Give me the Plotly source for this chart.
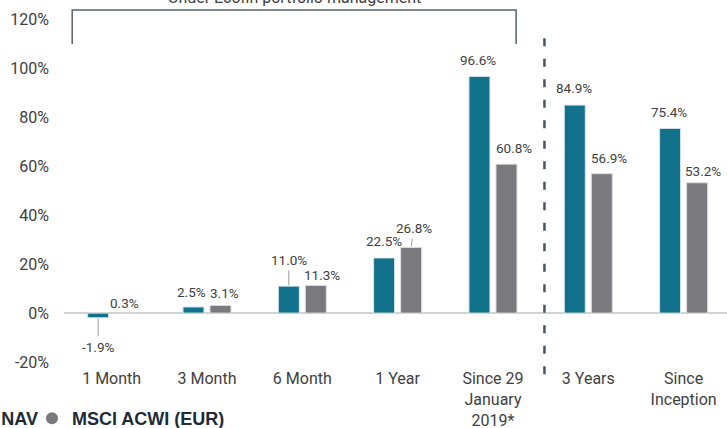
import plotly.graph_objects as go

categories = ["1 Month", "3 Month", "6 Month", "1 Year", "Since 29<br>January<br>2019*", "3 Years", "Since<br>Inception"]
nav_values = [-1.9, 2.5, 11.0, 22.5, 96.6, 84.9, 75.4]
msci_values = [0.3, 3.1, 11.3, 26.8, 60.8, 56.9, 53.2]
y_tickvals = [-20, 0, 20, 40, 60, 80, 100, 120]
y_ticktext = ["-20%", "0%", "20%", "40%", "60%", "80%", "100%", "120%"]
series_names = ["NAV", "MSCI ACWI (EUR)"]
bracket_label = "Under Ecofin portfolio management"

NAV_COLOR = "#12718a"
MSCI_COLOR = "#7a7a7e"
TEXT_COLOR = "#404040"
FONT = "Roboto"

BAR_W = 0.22
NAV_OFF = -0.2518
MSCI_OFF = 0.0316
NAV_C = NAV_OFF + BAR_W / 2
MSCI_C = MSCI_OFF + BAR_W / 2

xs = list(range(len(categories)))

fig = go.Figure()
fig.add_trace(go.Bar(x=xs, y=nav_values, width=BAR_W, offset=NAV_OFF,
                     marker=dict(color=NAV_COLOR, line=dict(color="#d5e3e8", width=1)),
                     showlegend=False, hoverinfo="skip"))
fig.add_trace(go.Bar(x=xs, y=msci_values, width=BAR_W, offset=MSCI_OFF,
                     marker=dict(color=MSCI_COLOR, line=dict(color="#dcdcdc", width=1)),
                     showlegend=False, hoverinfo="skip"))
# legend entries (circle markers)
fig.add_trace(go.Scatter(x=[None], y=[None], mode="markers", name=series_names[0], legend="legend",
                         marker=dict(symbol="circle", size=14, color=NAV_COLOR)))
fig.add_trace(go.Scatter(x=[None], y=[None], mode="markers", name=series_names[1], legend="legend2",
                         marker=dict(symbol="circle", size=14, color=MSCI_COLOR)))

# label offsets (pixels): (xshift, yshift) or arrow (ax, ay)
nav_label_style = [("arrow", 0, 29), ("shift", -2, 15), ("arrow", 0, -26), ("shift", -0.5, 17),
                   ("shift", -1.5, 16.5), ("shift", -1, 17), ("shift", -1, 16)]
msci_label_style = [("shift", -1, 9.5), ("shift", 4, 12.5), ("shift", 6.5, 10.5), ("arrow", 2.5, -19),
                    ("shift", 7.5, 16), ("shift", 7, 15.6), ("shift", 6, 11.5)]

def add_labels(values, center, styles):
    for i, (v, st) in enumerate(zip(values, styles)):
        txt = f"{v:.1f}%"
        if st[0] == "arrow":
            fig.add_annotation(x=i + center, y=v, xref="x", yref="y", text=txt,
                               showarrow=True, arrowhead=0, arrowwidth=1, arrowcolor="#9a9a9a",
                               ax=st[1], ay=st[2], standoff=1, startstandoff=1,
                               font=dict(family=FONT, size=13.5, color=TEXT_COLOR))
        else:
            fig.add_annotation(x=i + center, y=v, xref="x", yref="y", text=txt,
                               showarrow=False, xshift=st[1], yshift=st[2], yanchor="middle",
                               font=dict(family=FONT, size=13.5, color=TEXT_COLOR))

add_labels(nav_values, NAV_C, nav_label_style)
add_labels(msci_values, MSCI_C, msci_label_style)

# bracket
BR_COLOR = "#55636c"
fig.add_shape(type="path", xref="x", yref="y",
              path="M -0.414 109.8 L -0.414 123.7 L 4.243 123.7 L 4.243 109.8",
              line=dict(color=BR_COLOR, width=1.5))
fig.add_annotation(x=(-0.414 + 4.243) / 2, y=123.7, xref="x", yref="y", text=bracket_label,
                   showarrow=False, yanchor="bottom", yshift=1,
                   font=dict(family=FONT, size=16, color=TEXT_COLOR))
# dashed divider
fig.add_shape(type="line", xref="x", yref="paper", x0=4.54, x1=4.54, y0=0.896, y1=-0.0436,
              line=dict(color="#4a5560", width=2.5, dash="8px,12.5px"))

legend_font = dict(family="Liberation Sans", size=18, color="#1c2b36", weight="bold")
fig.update_layout(
    width=727, height=428,
    margin=dict(l=64, r=0, t=0, b=61, autoexpand=False),
    plot_bgcolor="white", paper_bgcolor="white",
    barmode="overlay",
    font=dict(family=FONT, color=TEXT_COLOR, size=16),
    showlegend=True,
    legend=dict(orientation="h", x=-0.155, xanchor="left", y=-0.09, yanchor="top",
                font=legend_font, itemsizing="constant", bgcolor="rgba(0,0,0,0)"),
    legend2=dict(orientation="h", x=-0.0483, xanchor="left", y=-0.09, yanchor="top",
                 font=legend_font, itemsizing="constant", bgcolor="rgba(0,0,0,0)"),
    xaxis=dict(range=[-0.5, 6.455], tickvals=xs, ticktext=categories, showgrid=False,
               zeroline=False, showline=False, ticks="", tickfont=dict(size=16, color=TEXT_COLOR),
               automargin=False),
    yaxis=dict(range=[-22, 127.8], tickvals=y_tickvals, ticktext=y_ticktext, showgrid=False,
               zeroline=True, zerolinecolor="#d3d3d3", zerolinewidth=1.5, showline=False,
               ticks="", ticklabelstandoff=14, tickfont=dict(size=16, color=TEXT_COLOR),
               automargin=False),
)

fig.write_html("out.html", config={"displayModeBar": False},
               post_script="document.body.style.margin='0px';")
